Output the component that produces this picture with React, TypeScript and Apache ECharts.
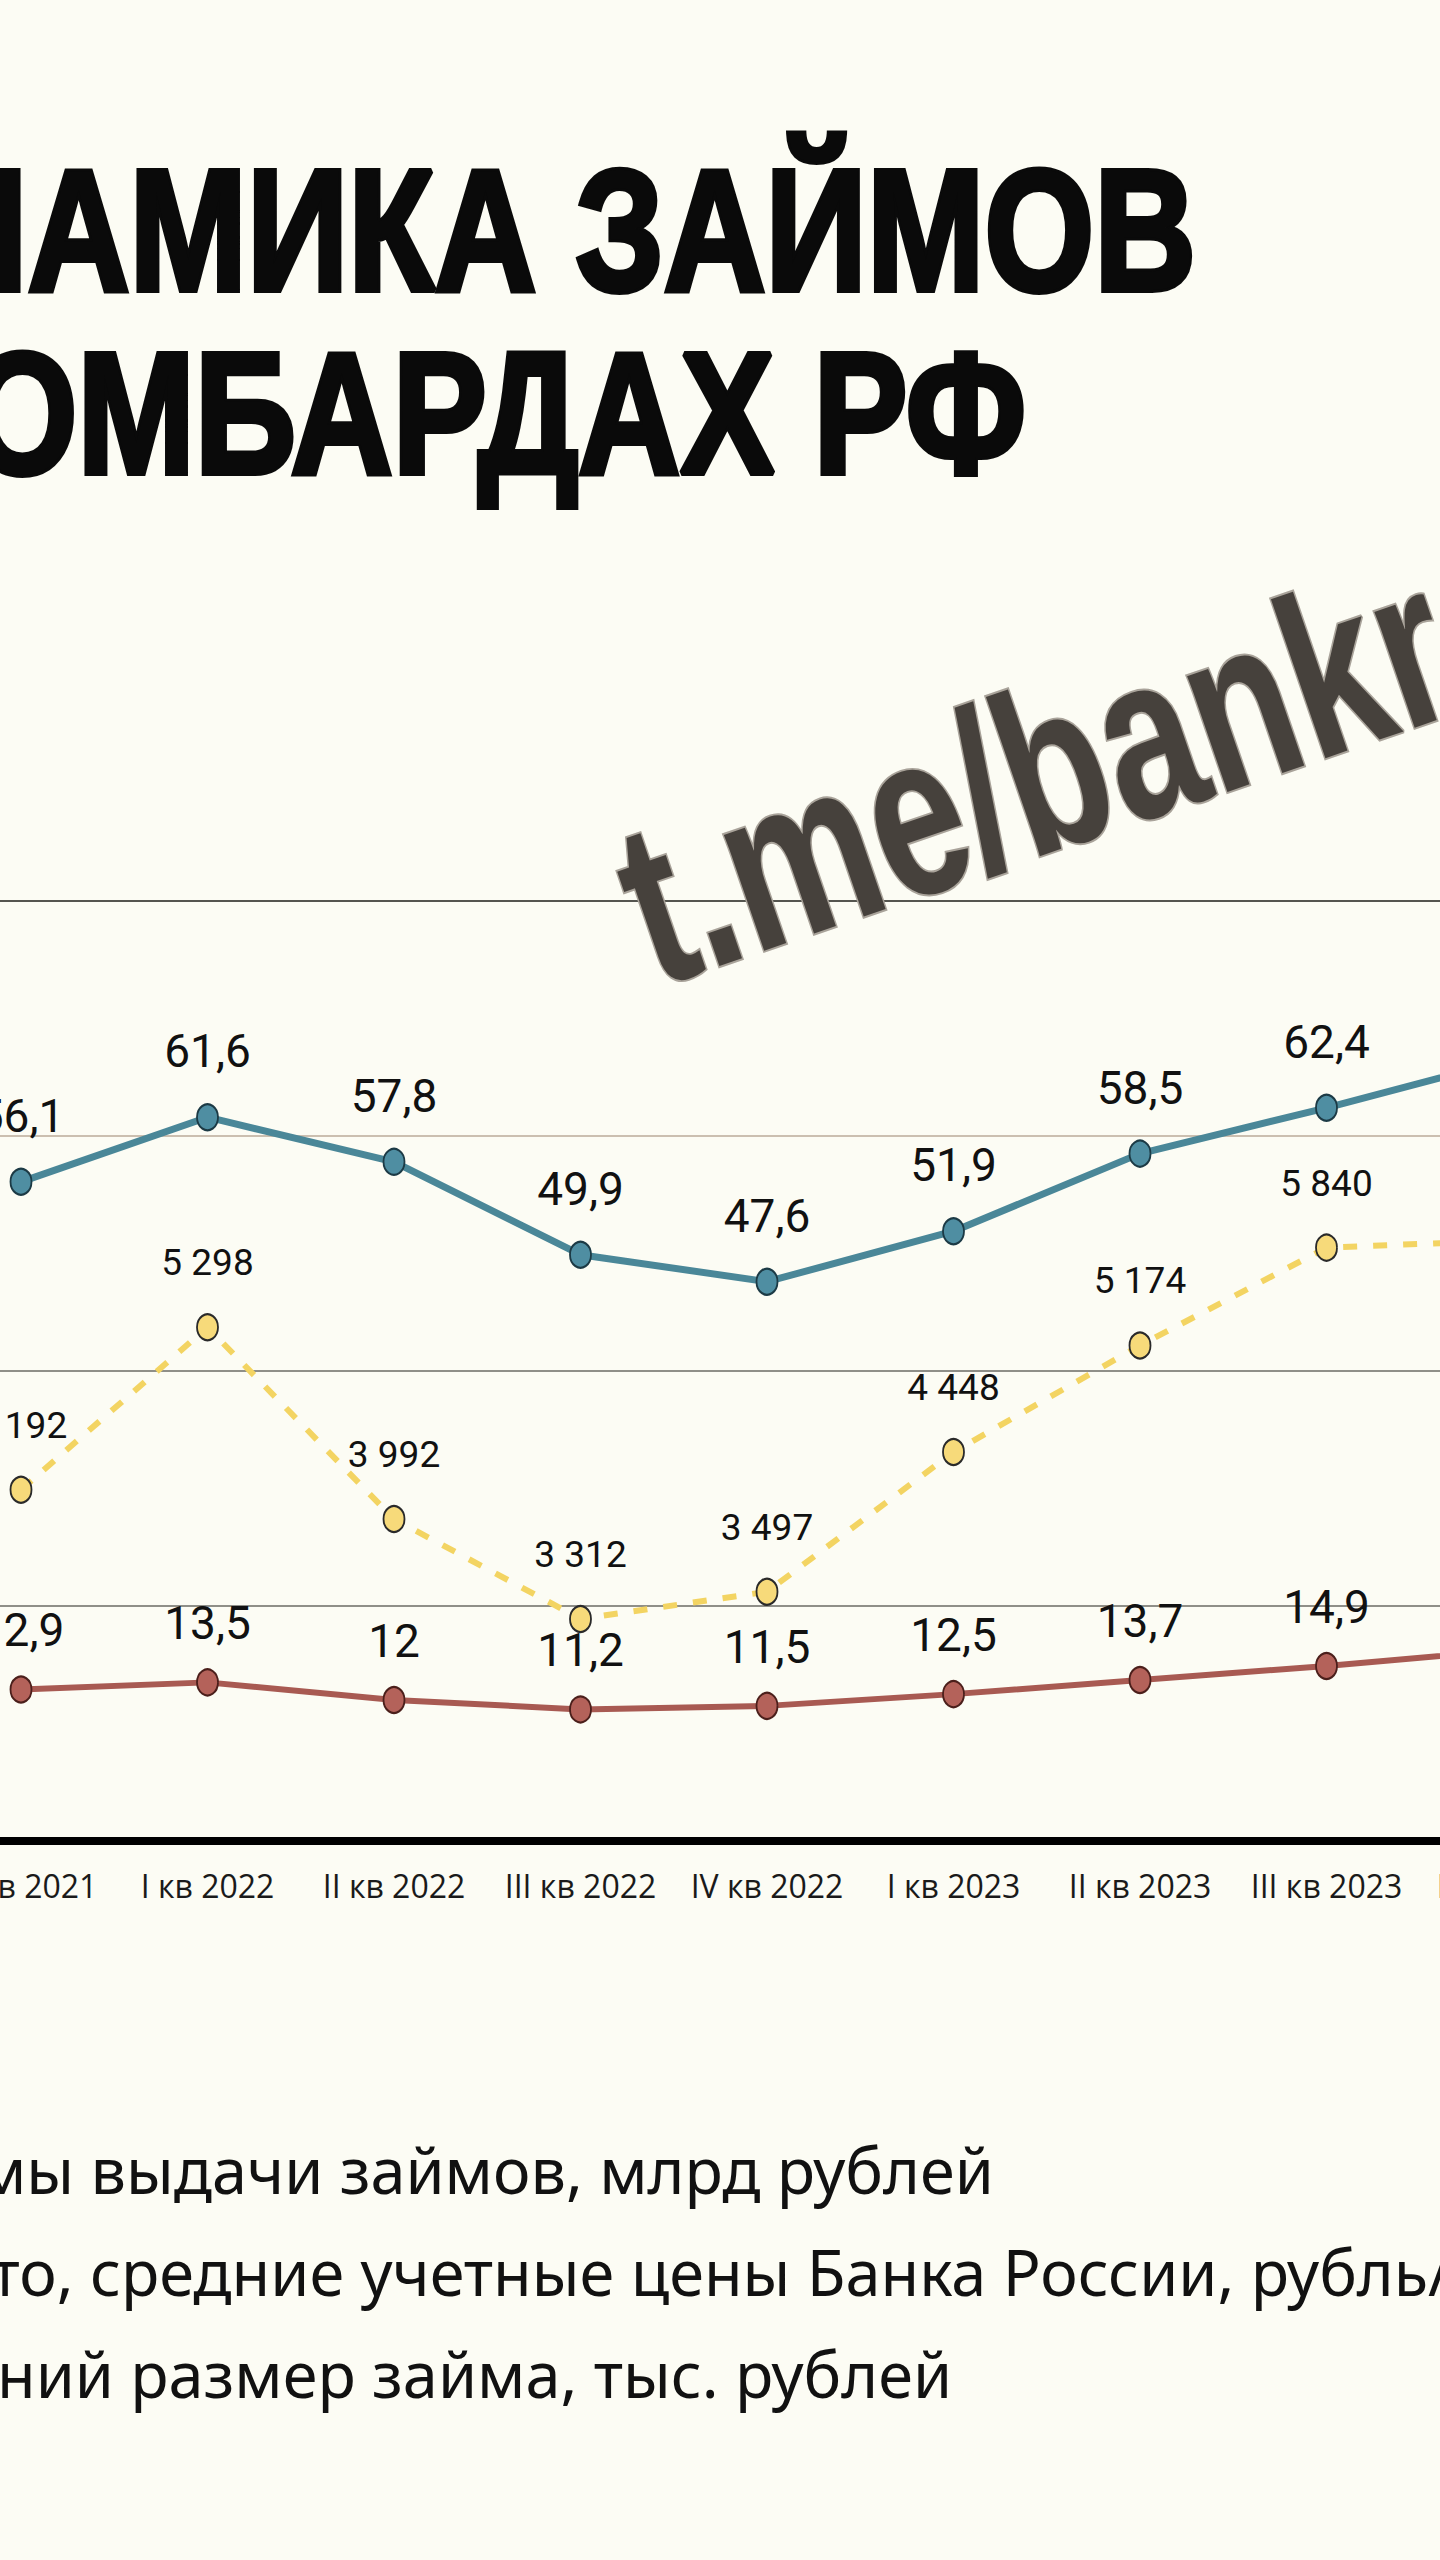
import React, { useEffect, useRef } from 'react';
import * as echarts from 'echarts';

// ---- data ----
const categories = ['IV кв 2021', 'I кв 2022', 'II кв 2022', 'III кв 2022', 'IV кв 2022', 'I кв 2023', 'II кв 2023', 'III кв 2023', 'IV кв 2023'];
const loanVolume = [56.1, 61.6, 57.8, 49.9, 47.6, 51.9, 58.5, 62.4, 66.6];
const goldPrice = [4192, 5298, 3992, 3312, 3497, 4448, 5174, 5840, 5890];
const avgLoanSize = [12.9, 13.5, 12, 11.2, 11.5, 12.5, 13.7, 14.9, 16.3];
const titleLines = ['ДИНАМИКА ЗАЙМОВ', 'В ЛОМБАРДАХ РФ'];
const legendLabels = [
  'Объемы выдачи займов, млрд рублей',
  'Золото, средние учетные цены Банка России, рубль/грамм',
  'Средний размер займа, тыс. рублей',
];
const watermarkText = 't.me/bankr';

const BG = '#fcfcf4';
const OX = 200; // the chart canvas starts OX px left of the page
const CANVAS_W = 1840;

const fmtComma = (v: number) => String(v).replace('.', ',');
const fmtThousands = (v: number) => String(v).replace(/\B(?=(\d{3})+(?!\d))/g, ' ');

export default function App() {
  const ref = useRef<HTMLDivElement>(null);
  useEffect(() => {
    document.body.style.margin = '0';
    document.body.style.background = BG;
    const chart = echarts.init(ref.current!, null, { renderer: 'svg' });
    const txt = (extra: any) => ({
      fill: '#111',
      ...extra,
      align: extra.textAlign,
      verticalAlign: extra.textVerticalAlign,
    });
    const legendX = [-181, -157, -154];
    const option: any = {
      animation: false,
      backgroundColor: BG,
      grid: { left: OX + 21 - 93.25, top: 901, width: 9 * 186.5, height: 940, containLabel: false },
      xAxis: {
        type: 'category',
        data: categories,
        boundaryGap: true,
        axisLine: { lineStyle: { color: '#000', width: 8 } },
        axisTick: { show: false },
        splitLine: { show: false },
        axisLabel: {
          interval: 0,
          margin: 28,
          fontFamily: 'Open Sans',
          fontSize: 32,
          color: '#1a1a1a',
        },
      },
      yAxis: [
        {
          type: 'value',
          min: 0,
          max: 80,
          interval: 20,
          axisLine: { show: false },
          axisTick: { show: false },
          axisLabel: { show: false },
          splitLine: {
            show: true,
            lineStyle: { color: ['#000', '#8f8f88', '#8f8f88', '#cbbfb0', '#55554f'], width: 2 },
          },
        },
        {
          type: 'value',
          min: 1800,
          max: 8200,
          show: false,
          splitLine: { show: false },
        },
      ],
      series: [
        {
          name: legendLabels[0],
          type: 'line',
          data: loanVolume,
          yAxisIndex: 0,
          symbol: 'circle',
          symbolSize: [21, 26],
          lineStyle: { color: '#4a8798', width: 7 },
          itemStyle: { color: '#4f8ea2', borderColor: '#1c3a45', borderWidth: 2 },
          label: {
            show: true,
            position: 'top',
            distance: 29,
            formatter: (p: any) => fmtComma(p.value),
            fontFamily: 'Roboto',
            fontSize: 46,
            color: '#111',
          },
          z: 4,
        },
        {
          name: legendLabels[1],
          type: 'line',
          data: goldPrice,
          yAxisIndex: 1,
          symbol: 'circle',
          symbolSize: [21, 26],
          lineStyle: { color: '#f3d462', width: 6, type: [14, 16] },
          itemStyle: { color: '#f7da7a', borderColor: '#2a2a2a', borderWidth: 2 },
          label: {
            show: true,
            position: 'top',
            distance: 32,
            formatter: (p: any) => fmtThousands(p.value),
            fontFamily: 'Roboto',
            fontSize: 37,
            color: '#111',
          },
          z: 3,
        },
        {
          name: legendLabels[2],
          type: 'line',
          data: avgLoanSize,
          yAxisIndex: 0,
          symbol: 'circle',
          symbolSize: [21, 26],
          lineStyle: { color: '#a85a52', width: 6 },
          itemStyle: { color: '#b4625a', borderColor: '#4b1f1b', borderWidth: 2 },
          label: {
            show: true,
            position: 'top',
            distance: 22,
            formatter: (p: any) => fmtComma(p.value),
            fontFamily: 'Roboto',
            fontSize: 46,
            color: '#111',
          },
          z: 4,
        },
      ],
      graphic: [
        {
          type: 'text',
          x: OX + 1196,
          y: 230,
          scaleX: 0.82,
          z: 10,
          style: txt({
            text: titleLines[0],
            fontFamily: 'Liberation Sans',
            fontWeight: 'bold',
            fontSize: 172,
            fill: '#0a0a0a',
            stroke: '#0a0a0a',
            lineWidth: 6,
            textAlign: 'right',
            textVerticalAlign: 'middle',
          }),
        },
        {
          type: 'text',
          x: OX + 1026,
          y: 413,
          scaleX: 0.82,
          z: 10,
          style: txt({
            text: titleLines[1],
            fontFamily: 'Liberation Sans',
            fontWeight: 'bold',
            fontSize: 172,
            fill: '#0a0a0a',
            stroke: '#0a0a0a',
            lineWidth: 6,
            textAlign: 'right',
            textVerticalAlign: 'middle',
          }),
        },
        {
          type: 'text',
          x: OX + 629,
          y: 912,
          rotation: 0.33,
          scaleX: 0.73,
          z: 20,
          style: txt({
            text: watermarkText,
            fontFamily: 'Liberation Sans',
            fontWeight: 'bold',
            fontSize: 232,
            fill: '#46413c',
            stroke: '#a9a39a',
            lineWidth: 4,
            textAlign: 'left',
            textVerticalAlign: 'middle',
          }),
        },
        ...legendLabels.map((t, i) => ({
          type: 'text',
          x: OX + legendX[i],
          y: 2169 + i * 102,
          z: 10,
          style: txt({
            text: t,
            fontFamily: 'Noto Sans',
            fontSize: 63,
            fill: '#111',
            textAlign: 'left',
            textVerticalAlign: 'middle',
          }),
        })),
      ],
    };
    chart.setOption(option);
    return () => chart.dispose();
  }, []);
  return (
    <div style={{ position: 'absolute', left: 0, top: 0, width: 1440, height: 2560, overflow: 'hidden', background: BG }}>
      <div ref={ref} style={{ position: 'absolute', left: -OX, top: 0, width: CANVAS_W, height: 2560 }} />
    </div>
  );
}
